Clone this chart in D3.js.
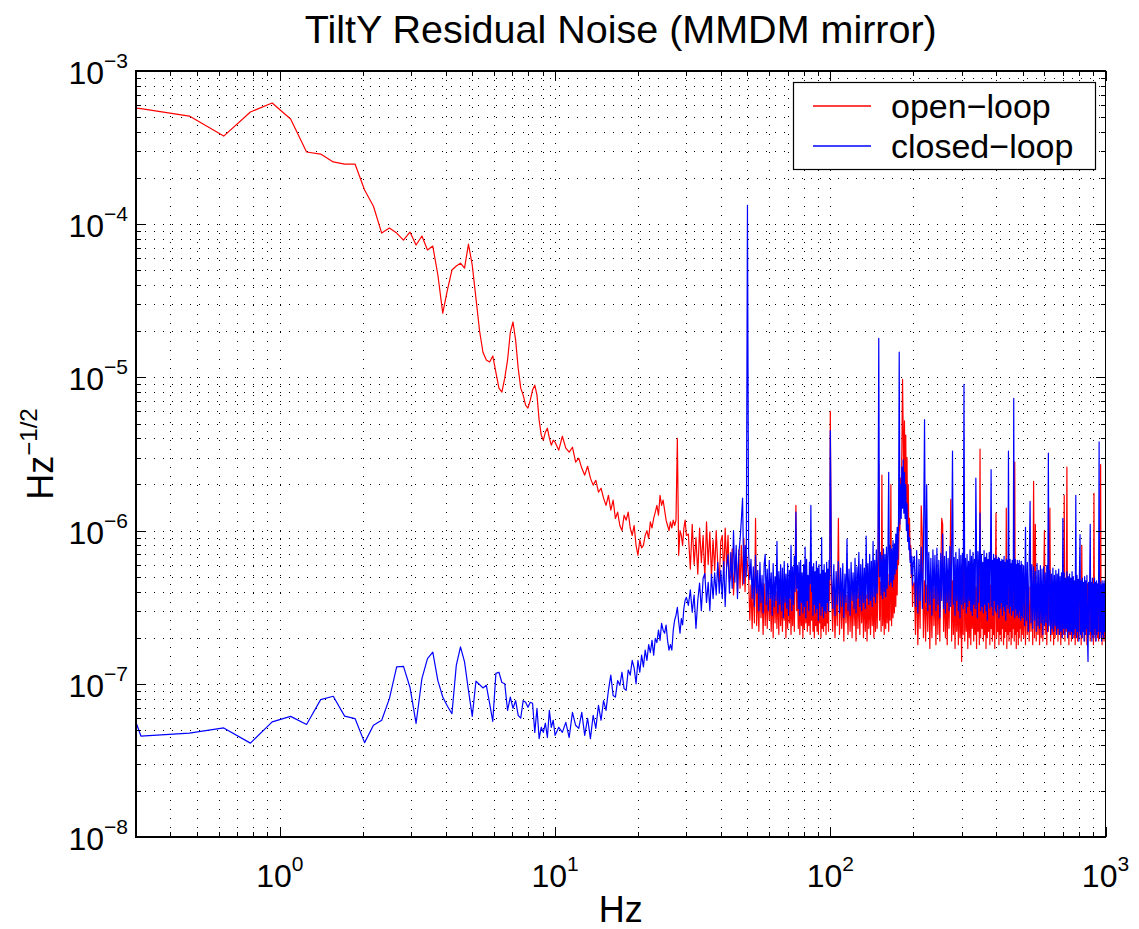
<!DOCTYPE html>
<html>
<head>
<meta charset="utf-8">
<title>TiltY Residual Noise</title>
<script src="https://d3js.org/d3.v7.min.js"></script>
<style>
  body { margin: 0; background: #fff; }
  text { font-family: "Liberation Sans", Arial, Helvetica, sans-serif; fill: #000; }
  .grid line { stroke: #000; stroke-width: 1; stroke-dasharray: 1,8; }
  .frame { fill: none; stroke: #000; stroke-width: 1.5; shape-rendering: crispEdges; }
  .tick { stroke: #000; stroke-width: 1; shape-rendering: crispEdges; }
  .trace { fill: none; stroke-width: 1.2; stroke-linejoin: round; }
</style>
</head>
<body>
<script>
// ---------------------------------------------------------------
// data  (all amplitudes in units of 1e-7 Hz^-1/2)
// ---------------------------------------------------------------
var UNIT = 1e-7;

// FFT frequency grid, one entry per block: [first freq Hz, step Hz, number of bins]
var freqBlocks = [
  [0.15625, 0.15625, 64],   // A  0.16 - 10 Hz
  [10.3125, 0.3125, 64],    // B  10.3 - 30 Hz
  [30.5, 0.5, 40],          // C  30.5 - 50 Hz
  [50.5, 0.5, 100],         // D  50.5 - 100 Hz
  [101, 1, 100],            // E  101 - 200 Hz
  [202, 2, 150],            // F  202 - 500 Hz
  [504, 4, 125]             // G  504 - 1000 Hz
];

var openA = [6500, 5680, 5080, 3760, 5400, 6180, 4860, 2960, 2870, 2550,
  2470, 2470, 1670, 1310, 875, 943, 875, 788, 889, 731,
  837, 678, 720, 466, 263, 372, 502, 533, 557, 517,
  742, 541, 329, 203, 146, 130, 126, 138, 108, 85.1,
  80.2, 98.9, 130, 197, 230, 175, 115, 85.1, 76.6, 65.9,
  63, 71, 82.6, 89, 76.6, 52.6, 42, 38.9, 43.9, 46.6,
  40.1, 36.1, 38.9, 37.8];
var openB = [33.5, 41.3, 34.5, 32.5, 35, 28, 29.7, 25.6, 23, 26.3,
  22, 19.8, 21.3, 17.8, 18.9, 16.3, 14.6, 17, 13.6, 15.8,
  12, 13.2, 10.8, 10, 12.6, 11.7, 13.2, 10.4, 9.3, 10.8,
  8, 6.9, 8.7, 7.7, 8, 9.3, 10, 8.9, 11.4, 10.4,
  12, 13.2, 14.6, 12.6, 17, 14.6, 15.8, 13.6, 11.7, 10.8,
  10, 11.4, 10.4, 11.7, 10.8, 11.7, 40, 6.9, 10, 9.3,
  8, 10.4, 11.7, 9.3];
var openC = [9.5, 5.6, 11, 6.0, 9.0, 5.2, 10.4, 6.2, 9.3, 4.9,
  11.4, 6.0, 9.8, 5.0, 8.7, 5.5, 10, 6.0, 4.6, 8.5,
  9.3, 5.0, 10.4, 5.8, 9.3, 4.6, 5.1, 7.6, 3.8, 6.0,
  7.0, 3.9, 7.5, 4.2, 8.0, 4.4, 8.9, 4.0, 7.2, 6.0];
var openD = [5.0, 2.6, 4.4, 2.3, 4.8, 2.5, 12, 2.4, 4.2, 2.2,
  4.6, 2.7, 3.9, 2.1, 4.5, 2.4, 4.1, 2.3, 4.7, 2.6,
  3.8, 2.2, 4.4, 2.0, 4.6, 2.5, 4.0, 2.3, 4.3, 2.1,
  4.8, 2.4, 3.9, 2.2, 4.5, 2.6, 4.1, 2.0, 4.4, 2.3,
  4.7, 2.5, 3.8, 2.1, 4.3, 2.4, 4.6, 2.2, 5.2, 14.6,
  3.0, 4.0, 2.3, 4.5, 2.1, 4.2, 2.4, 3.9, 2.0, 4.6,
  2.3, 4.1, 2.5, 4.4, 2.2, 3.8, 2.4, 4.5, 2.1, 4.9,
  2.6, 4.0, 2.2, 4.3, 2.0, 4.6, 2.4, 3.9, 2.2, 4.4,
  2.1, 4.2, 2.5, 3.8, 2.0, 4.5, 2.3, 4.1, 2.2, 4.7,
  2.4, 3.9, 2.1, 4.3, 2.5, 4.0, 2.2, 4.6, 3.5, 60];
var openE = [4.2, 2.2, 4.5, 2.0, 3.9, 2.4, 12, 2.1, 4.3, 2.3,
  4.0, 1.9, 4.4, 2.5, 3.8, 2.1, 4.6, 2.2, 4.1, 2.0,
  4.3, 2.4, 3.9, 1.9, 4.5, 2.3, 4.2, 2.1, 4.7, 2.5,
  4.0, 2.0, 4.4, 2.2, 3.8, 1.9, 4.6, 2.3, 4.2, 2.1,
  4.8, 2.4, 4.1, 2.0, 4.5, 2.2, 4.9, 2.3, 4.4, 27,
  2.6, 4.6, 2.2, 23, 2.4, 4.8, 2.1, 5.0, 2.3, 4.5,
  2.5, 5.2, 2.2, 4.7, 2.6, 20, 2.4, 5.4, 2.7, 5.8,
  2.9, 6.5, 3.2, 7.5, 3.8, 9, 6, 12, 10, 22,
  14, 35, 97, 45, 16, 52, 15, 42, 14, 30,
  11, 20, 9, 12, 6.5, 8, 5, 5.5, 3.2, 4.4];
var openF = [4.6, 2.1, 5.0, 1.8, 4.3, 2.3, 14.5, 9, 2.0, 4.7,
  1.9, 4.4, 2.2, 5.1, 1.7, 4.5, 2.0, 4.8, 2.4, 4.2,
  1.8, 4.9, 2.1, 4.4, 1.9, 5.2, 12, 11, 2.2, 4.6,
  2.0, 4.3, 1.8, 5.0, 2.3, 4.5, 16, 1.9, 4.7, 2.1,
  4.4, 1.7, 4.9, 2.2, 4.2, 1.8, 5.1, 2.0, 4.6, 1.4,
  4.3, 2.1, 19, 1.9, 4.8, 2.2, 4.4, 1.7, 5.0, 2.0,
  4.5, 1.8, 4.2, 2.3, 4.9, 1.9, 4.6, 2.1, 4.3, 1.7,
  5.0, 2.2, 4.4, 1.8, 34, 2.0, 4.7, 2.3, 4.2, 1.9,
  4.8, 2.1, 4.5, 1.7, 5.1, 2.0, 4.3, 2.2, 4.6, 1.8,
  4.4, 2.3, 4.9, 1.9, 4.2, 2.1, 4.7, 1.7, 4.5, 13,
  2.0, 4.8, 2.2, 4.3, 1.8, 5.0, 2.1, 4.4, 1.9, 4.6,
  2.3, 4.2, 1.8, 4.9, 2.0, 4.5, 2.2, 14, 1.7, 4.7,
  2.1, 4.3, 1.9, 5.0, 2.2, 4.4, 1.8, 4.6, 2.0, 4.2,
  2.3, 4.8, 1.9, 28, 2.1, 4.5, 1.7, 4.9, 2.2, 4.3,
  1.8, 4.6, 2.0, 4.4, 2.3, 4.1, 1.9, 4.7, 2.1, 4.5];
var openG = [2.0, 4.2, 1.8, 4.5, 2.1, 4.0, 1.9, 4.3, 2.2, 4.1,
  1.8, 21, 2.0, 11, 1.9, 4.4, 2.1, 4.0, 1.8, 4.3,
  2.0, 4.1, 1.9, 4.5, 10, 2.1, 4.2, 1.8, 4.0, 2.2,
  4.4, 14, 1.9, 4.1, 2.1, 4.3, 1.8, 4.5, 2.0, 4.2,
  2.2, 4.0, 1.9, 4.4, 2.1, 4.2, 1.8, 4.3, 2.0, 4.1,
  2.1, 17, 1.9, 4.0, 2.2, 26, 2.0, 4.4, 1.8, 4.2,
  2.1, 4.3, 1.9, 4.1, 2.2, 4.5, 2.0, 4.0, 1.8, 4.3,
  2.1, 4.2, 1.9, 4.4, 2.0, 4.1, 2.2, 4.3, 1.8, 8,
  2.0, 4.1, 2.2, 4.4, 1.9, 4.2, 2.1, 4.0, 1.8, 4.5,
  2.0, 4.3, 2.2, 4.1, 1.9, 4.4, 2.1, 4.2, 2.0, 4.0,
  1.8, 17.5, 2.1, 4.3, 1.9, 4.1, 2.2, 4.4, 2.0, 4.2,
  1.9, 4.0, 2.1, 4.3, 27, 2.0, 4.2, 1.8, 4.4, 2.1,
  4.1, 1.9, 4.3, 2.0, 6.9];

var closedA = [15, 0.456, 0.477, 0.515, 0.41, 0.564, 0.613, 0.543, 0.788, 0.829,
  0.615, 0.593, 0.413, 0.536, 0.578, 0.8, 1.29, 1.3, 0.95, 0.551,
  1.08, 1.46, 1.61, 1.05, 0.82, 0.713, 0.638, 1.32, 1.74, 1.39,
  0.907, 0.613, 1.04, 0.99, 0.94, 0.978, 0.746, 0.569, 1.17, 1.19,
  1.02, 1.0, 0.671, 0.819, 0.692, 0.776, 0.623, 0.596, 0.776, 0.757,
  0.702, 0.757, 0.746, 0.482, 0.692, 0.439, 0.52, 0.482, 0.553, 0.446,
  0.671, 0.52, 0.578, 0.461];
var closedB = [0.52, 0.482, 0.56, 0.446, 0.651, 0.536, 0.512, 0.651, 0.461, 0.596,
  0.439, 0.623, 0.512, 0.724, 0.578, 0.776, 0.671, 0.907, 1.14, 0.84,
  0.819, 1.05, 0.978, 1.19, 0.93, 0.907, 1.23, 1.14, 1.42, 1.27,
  1.0, 1.42, 1.19, 1.54, 1.29, 1.66, 1.42, 1.8, 1.6, 1.92,
  1.54, 1.98, 1.86, 2.24, 1.92, 2.48, 2.24, 2.14, 2.42, 1.92,
  1.66, 1.8, 1.66, 2.24, 2.6, 2.8, 3.16, 2.54, 2.14, 2.66,
  2.42, 3.12, 3.51, 3.67];
var closedC = [3.25, 4.1, 2.93, 3.8, 2.3, 3.5, 4.55, 3.0, 4.88, 5.25,
  3.4, 4.6, 3.0, 5.2, 3.6, 5.3, 3.8, 6.2, 3.9, 5.5,
  3.6, 6.3, 3.2, 5.8, 7.0, 3.9, 7.2, 4.2, 10, 4.6,
  8.0, 3.6, 7.0, 8.7, 11.7, 16.3, 4.5, 8, 5.0, 1330];
var closedD = [7.2, 4.8, 6.5, 3.6, 5.8, 3.2, 6.9, 3.9, 5.5, 3.0,
  6.2, 3.4, 5.1, 2.9, 6.0, 7.0, 3.3, 5.6, 3.0, 6.4,
  3.6, 5.3, 2.8, 6.1, 3.2, 5.0, 3.5, 8.5, 2.9, 5.4,
  3.3, 6.0, 3.0, 5.7, 2.7, 6.3, 3.4, 5.2, 3.1, 6.1,
  2.8, 5.5, 3.6, 8.0, 3.0, 5.8, 3.3, 6.8, 4.0, 13.2,
  4.2, 5.9, 3.1, 6.2, 2.8, 6.4, 3.4, 5.3, 2.9, 6.0,
  3.2, 7.8, 2.7, 6.5, 3.5, 5.1, 3.0, 6.2, 4.5, 14.6,
  4.0, 5.8, 2.8, 6.1, 3.3, 5.4, 2.9, 6.3, 3.1, 5.7,
  2.6, 6.0, 3.4, 5.2, 2.8, 9.0, 3.2, 5.5, 2.7, 6.0,
  3.0, 5.3, 2.9, 6.2, 3.4, 5.6, 3.0, 6.4, 4.8, 45];
var closedE = [5.5, 3.1, 6.0, 2.8, 5.4, 3.3, 6.3, 2.9, 5.7, 3.2,
  6.1, 2.7, 5.2, 3.4, 8.8, 3.0, 5.6, 2.8, 6.2, 3.5,
  5.3, 3.1, 6.6, 2.9, 5.8, 3.6, 7.2, 3.2, 6.0, 3.0,
  6.5, 3.4, 5.7, 3.1, 9.2, 3.6, 6.1, 3.3, 7.0, 3.5,
  6.3, 3.2, 8.5, 3.7, 6.4, 3.4, 7.5, 3.9, 6.6, 180,
  5.0, 7.2, 3.8, 6.9, 3.6, 7.6, 4.0, 7.0, 3.7, 7.8,
  4.2, 7.3, 24, 4.4, 8.0, 4.6, 7.6, 4.3, 8.6, 4.8,
  8.2, 5.2, 9.5, 5.6, 10.5, 6.5, 12, 146, 11, 20,
  12, 26, 14, 29, 13, 24, 12, 20, 10, 15,
  8.5, 11, 7.5, 9, 6.2, 7.6, 5.2, 6.8, 4.4, 6.0];
var closedF = [6.8, 3.2, 7.4, 2.9, 6.5, 3.5, 7.8, 3.1, 6.9, 53,
  3.4, 20, 3.0, 7.2, 3.3, 6.6, 2.8, 7.5, 3.6, 6.9,
  3.0, 7.7, 3.3, 6.4, 2.7, 7.1, 3.5, 9.5, 3.1, 6.8,
  2.9, 7.3, 3.4, 6.6, 3.0, 7.9, 3.2, 6.6, 33, 3.3,
  6.7, 2.8, 7.2, 3.5, 6.5, 3.0, 7.6, 2.7, 6.9, 3.3,
  7.1, 3.1, 90, 3.4, 6.6, 2.9, 7.0, 3.2, 6.3, 3.5,
  7.5, 3.0, 6.8, 2.8, 7.2, 3.3, 6.5, 3.1, 22, 6.9,
  2.7, 7.3, 3.4, 6.6, 13, 3.0, 7.0, 3.2, 6.2, 2.9,
  7.4, 3.3, 6.7, 3.0, 7.1, 2.6, 6.5, 3.4, 7.2, 3.1,
  6.8, 25, 3.2, 6.4, 2.8, 7.0, 3.5, 6.6, 3.0, 6.9,
  2.9, 6.5, 3.3, 6.7, 2.7, 6.6, 3.1, 6.3, 3.4, 6.5,
  2.8, 6.4, 3.2, 6.8, 3.0, 6.2, 2.6, 6.5, 3.3, 6.4,
  3.1, 33, 6.2, 2.9, 6.5, 3.2, 6.1, 2.8, 6.4, 3.0,
  3.0, 73, 6.2, 2.7, 6.5, 3.1, 6.0, 2.8, 6.4, 2.9,
  6.1, 2.7, 6.4, 3.0, 5.9, 2.6, 6.3, 2.8, 6.0, 2.7];
var closedG = [5.9, 2.4, 10.5, 2.6, 6.2, 2.2, 5.6, 15.5, 2.5, 6.0,
  2.3, 5.8, 2.6, 5.4, 2.2, 6.1, 2.4, 5.5, 2.3, 5.9,
  2.5, 5.6, 2.1, 5.8, 2.4, 5.3, 2.5, 5.9, 2.2, 32,
  2.4, 5.5, 2.1, 5.2, 2.3, 5.7, 2.2, 5.1, 2.4, 5.5,
  2.1, 5.2, 2.3, 5.6, 2.1, 5.0, 2.2, 5.3, 2.0, 12,
  2.3, 5.3, 2.1, 4.9, 2.3, 5.4, 2.0, 5.0, 2.2, 5.2,
  2.1, 4.9, 2.2, 5.4, 2.0, 5.0, 2.1, 4.7, 2.3, 17,
  2.0, 5.1, 2.2, 4.8, 1.9, 5.2, 9.4, 2.1, 4.7, 2.0,
  4.9, 2.2, 4.6, 1.9, 5.0, 2.1, 4.7, 2.3, 5.1, 2.0,
  1.4, 4.6, 2.1, 4.8, 11, 2.2, 4.6, 1.9, 4.9, 2.1,
  4.5, 2.0, 4.9, 2.3, 4.6, 1.9, 4.7, 2.1, 4.5, 2.2,
  4.8, 38, 2.0, 4.6, 2.2, 4.4, 1.9, 4.7, 2.1, 4.5,
  2.0, 4.7, 2.2, 4.5, 3.0];

var seriesNames = ["open\u2212loop", "closed\u2212loop"];
var seriesColors = ["#ff0000", "#0000ff"];
var xTickExp = [0, 1, 2, 3];
var yTickExp = [-8, -7, -6, -5, -4, -3];
var titleText = "TiltY Residual Noise (MMDM mirror)";

// ---------------------------------------------------------------
// layout
// ---------------------------------------------------------------
var W = 1139, H = 929;
var plot = { left: 136, right: 1105.5, top: 71, bottom: 837 };

function buildSeries(parts) {
  var pts = [];
  freqBlocks.forEach(function (b, s) {
    parts[s].forEach(function (v, i) { pts.push([b[0] + i * b[1], v * UNIT]); });
  });
  return pts;
}
var openLoop = buildSeries([openA, openB, openC, openD, openE, openF, openG]);
var closedLoop = buildSeries([closedA, closedB, closedC, closedD, closedE, closedF, closedG]);

var svg = d3.select("body").append("svg").attr("width", W).attr("height", H);

var x = d3.scaleLog().domain([0.3, 1000]).range([plot.left, plot.right]);
var y = d3.scaleLog().domain([1e-8, 1e-3]).range([plot.bottom, plot.top]);

svg.append("defs").append("clipPath").attr("id", "clip").append("rect")
  .attr("x", plot.left).attr("y", plot.top)
  .attr("width", plot.right - plot.left).attr("height", plot.bottom - plot.top);

var xTicks = x.ticks();
var yTicks = y.ticks();
function isMajor(v) { var l = Math.log10(v); return Math.abs(l - Math.round(l)) < 1e-9; }
function snap(p) { return Math.round(p) + 0.5; }

// dotted grid (major and minor)
var grid = svg.append("g").attr("class", "grid");
grid.selectAll(".gx").data(xTicks.filter(function (d) { return d > 0.3 && d < 1000; }))
  .join("line").attr("class", "gx")
  .attr("x1", function (d) { return snap(x(d)); }).attr("x2", function (d) { return snap(x(d)); })
  .attr("y1", plot.top).attr("y2", plot.bottom);
grid.selectAll(".gy").data(yTicks.filter(function (d) { return d > 1e-8 && d < 1e-3; }))
  .join("line").attr("class", "gy")
  .attr("y1", function (d) { return snap(y(d)); }).attr("y2", function (d) { return snap(y(d)); })
  .attr("x1", plot.left).attr("x2", plot.right);

// traces
var line = d3.line().x(function (d) { return x(d[0]); }).y(function (d) { return y(d[1]); });
var traces = svg.append("g").attr("clip-path", "url(#clip)");
[openLoop, closedLoop].forEach(function (s, i) {
  traces.append("path").attr("class", "trace").attr("d", line(s)).attr("stroke", seriesColors[i]);
});

// frame and ticks (all four sides, pointing inward)
svg.append("rect").attr("class", "frame")
  .attr("x", plot.left).attr("y", plot.top)
  .attr("width", plot.right - plot.left).attr("height", plot.bottom - plot.top);
var ticks = svg.append("g");
xTicks.forEach(function (d) {
  var len = isMajor(d) ? 10 : 5, px = snap(x(d));
  ticks.append("line").attr("class", "tick").attr("x1", px).attr("x2", px).attr("y1", plot.bottom).attr("y2", plot.bottom - len);
  ticks.append("line").attr("class", "tick").attr("x1", px).attr("x2", px).attr("y1", plot.top).attr("y2", plot.top + len);
});
yTicks.forEach(function (d) {
  var len = isMajor(d) ? 10 : 5, py = snap(y(d));
  ticks.append("line").attr("class", "tick").attr("y1", py).attr("y2", py).attr("x1", plot.left).attr("x2", plot.left + len);
  ticks.append("line").attr("class", "tick").attr("y1", py).attr("y2", py).attr("x1", plot.right).attr("x2", plot.right - len);
});

// tick labels 10^n
function powLabel(sel, e) {
  sel.append("tspan").text("10");
  sel.append("tspan").attr("font-size", 21).attr("dy", -16).text((e < 0 ? "\u2212" : "") + Math.abs(e));
}
xTickExp.forEach(function (e) {
  var t = svg.append("text").attr("x", x(Math.pow(10, e))).attr("y", 887)
    .attr("text-anchor", "middle").attr("font-size", 32);
  powLabel(t, e);
});
yTickExp.forEach(function (e) {
  var t = svg.append("text").attr("x", 128).attr("y", y(Math.pow(10, e)) + 13)
    .attr("text-anchor", "end").attr("font-size", 32);
  powLabel(t, e);
});

// title and axis labels
var cx = (plot.left + plot.right) / 2, cy = (plot.top + plot.bottom) / 2;
svg.append("text").attr("x", cx).attr("y", 43).attr("text-anchor", "middle")
  .attr("font-size", 39.5).text(titleText);
svg.append("text").attr("x", cx).attr("y", 922).attr("text-anchor", "middle")
  .attr("font-size", 36).text("Hz");
var yl = svg.append("text").attr("transform", "translate(53," + cy + ") rotate(-90)")
  .attr("text-anchor", "middle").attr("font-size", 36);
yl.append("tspan").text("Hz");
yl.append("tspan").attr("font-size", 24).attr("dy", -16).text("\u22121/2");

// legend
var lg = svg.append("g");
lg.append("rect").attr("x", 793.5).attr("y", 82.5).attr("width", 302).attr("height", 87)
  .attr("fill", "#fff").attr("stroke", "#000").attr("stroke-width", 1.2);
seriesNames.forEach(function (name, i) {
  var ly = 106 + i * 40;
  lg.append("line").attr("x1", 813).attr("x2", 871).attr("y1", ly).attr("y2", ly)
    .attr("stroke", seriesColors[i]).attr("stroke-width", 1.4);
  lg.append("text").attr("x", 891).attr("y", ly + 12).attr("font-size", 34).text(name);
});
</script>
</body>
</html>
